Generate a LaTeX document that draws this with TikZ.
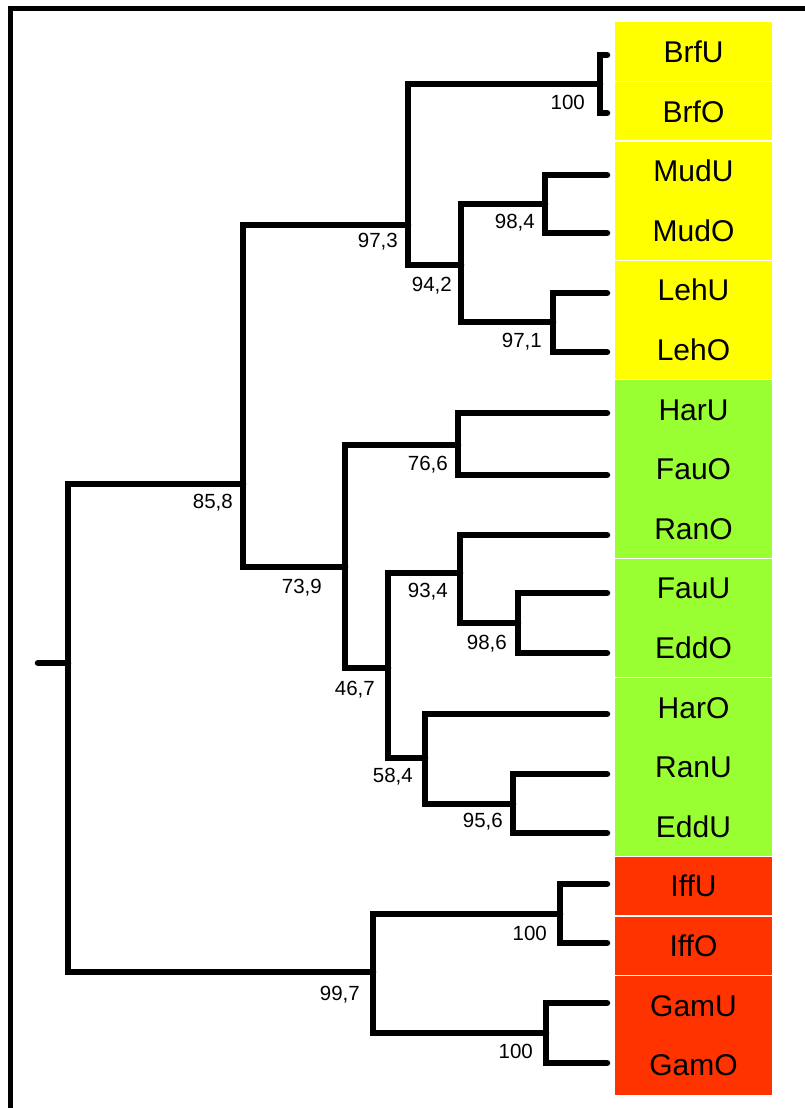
\documentclass[tikz,border=0pt]{standalone}
\usepackage{fontspec}
\setmainfont{Liberation Sans}
\definecolor{ylw}{HTML}{FFFF00}
\definecolor{grn}{HTML}{99FF33}
\definecolor{rd}{HTML}{FF3300}
\tikzset{
  branch/.style={line width=6.5pt, line cap=round, line join=miter},
  leaf/.style={minimum width=157pt, minimum height=60.2pt, inner sep=0pt,
    font=\fontsize{30}{36}\selectfont, text height=21.5pt, text depth=0pt},
  boot/.style={anchor=east, inner sep=0pt, font=\fontsize{20.5}{24}\selectfont,
    text height=14.7pt, text depth=0pt},
  frame/.style={line width=4.5pt}
}
\begin{document}
\begin{tikzpicture}[x=1pt,y=-1pt]
\useasboundingbox (0,0) rectangle (805,1108);
\fill[white] (0,0) rectangle (805,1108);

% outer frame (top and left edges)
\draw[frame] (10.5,1110) -- (10.5,8.5) -- (810,8.5);

% coloured taxon boxes
\foreach \n/\c [count=\i from 0] in {BrfU/ylw,BrfO/ylw,MudU/ylw,MudO/ylw,LehU/ylw,LehO/ylw,
  HarU/grn,FauO/grn,RanO/grn,FauU/grn,EddO/grn,HarO/grn,RanU/grn,EddU/grn,
  IffU/rd,IffO/rd,GamU/rd,GamO/rd}
  \node[leaf, fill=\c] (\n) at (693.5,{51.8+59.6*\i}) {\n};
% white separators between box groups
\foreach \k in {1,2,4,6,9,11,14,15,16}
  \draw[white, line width=1.6pt] (613,{22+59.6*\k}) -- (774,{22+59.6*\k});

% leaf tips
\foreach \n/\y in {BrfU/55,BrfO/113,MudU/175,MudO/233,LehU/293,LehO/352,
  HarU/413,FauO/475,RanO/535,FauU/593,EddO/653,HarO/714,RanU/774,EddU/833,
  IffU/884,IffO/943,GamU/1003,GamO/1063}
  \coordinate (t\n) at (607,\y);

% internal nodes
\coordinate (nBrf) at (600,84);
\coordinate (nMud) at (545,204);
\coordinate (nLeh) at (553,322);
\coordinate (n942) at (461,265);
\coordinate (n973) at (408,225);
\coordinate (nHar) at (458,445);
\coordinate (nEdd) at (518,623);
\coordinate (n934) at (460,573);
\coordinate (nRan) at (513,804);
\coordinate (n584) at (425,758);
\coordinate (n467) at (388,668);
\coordinate (n739) at (345,567);
\coordinate (n858) at (243,484);
\coordinate (nIff) at (560,914);
\coordinate (nGam) at (546,1033);
\coordinate (n997) at (373,972);
\coordinate (root) at (68,663);
\coordinate (stub) at (38,663);

% branches
\draw[branch] (tBrfU) -| (nBrf) |- (tBrfO);
\draw[branch] (tMudU) -| (nMud) |- (tMudO);
\draw[branch] (tLehU) -| (nLeh) |- (tLehO);
\draw[branch] (nMud) -| (n942) |- (nLeh);
\draw[branch] (nBrf) -| (n973) |- (n942);
\draw[branch] (tHarU) -| (nHar) |- (tFauO);
\draw[branch] (tFauU) -| (nEdd) |- (tEddO);
\draw[branch] (tRanO) -| (n934) |- (nEdd);
\draw[branch] (tRanU) -| (nRan) |- (tEddU);
\draw[branch] (tHarO) -| (n584) |- (nRan);
\draw[branch] (n934) -| (n467) |- (n584);
\draw[branch] (nHar) -| (n739) |- (n467);
\draw[branch] (n973) -| (n858) |- (n739);
\draw[branch] (tIffU) -| (nIff) |- (tIffO);
\draw[branch] (tGamU) -| (nGam) |- (tGamO);
\draw[branch] (nIff) -| (n997) |- (nGam);
\draw[branch] (n858) -| (root) |- (n997);
\draw[branch] (stub) -- (root);

% bootstrap support values
\node[boot] (bBrf) at ([shift={(-15,18)}]nBrf) {100};
\node[boot] (b973) at ([shift={(-10,15)}]n973) {97,3};
\node[boot] (b942) at ([shift={(-9,19)}]n942) {94,2};
\node[boot] (bMud) at ([shift={(-10,17)}]nMud) {98,4};
\node[boot] (bLeh) at ([shift={(-11,18)}]nLeh) {97,1};
\node[boot] (b858) at ([shift={(-10,17)}]n858) {85,8};
\node[boot] (b739) at ([shift={(-23,19)}]n739) {73,9};
\node[boot] (bHar) at ([shift={(-10,18)}]nHar) {76,6};
\node[boot] (b934) at ([shift={(-12,17)}]n934) {93,4};
\node[boot] (bEdd) at ([shift={(-11,19)}]nEdd) {98,6};
\node[boot] (b467) at ([shift={(-13,20)}]n467) {46,7};
\node[boot] (b584) at ([shift={(-12,17)}]n584) {58,4};
\node[boot] (bRan) at ([shift={(-10,16)}]nRan) {95,6};
\node[boot] (bIff) at ([shift={(-13,19)}]nIff) {100};
\node[boot] (bGam) at ([shift={(-13,18)}]nGam) {100};
\node[boot] (b997) at ([shift={(-13,21)}]n997) {99,7};
\end{tikzpicture}
\end{document}
